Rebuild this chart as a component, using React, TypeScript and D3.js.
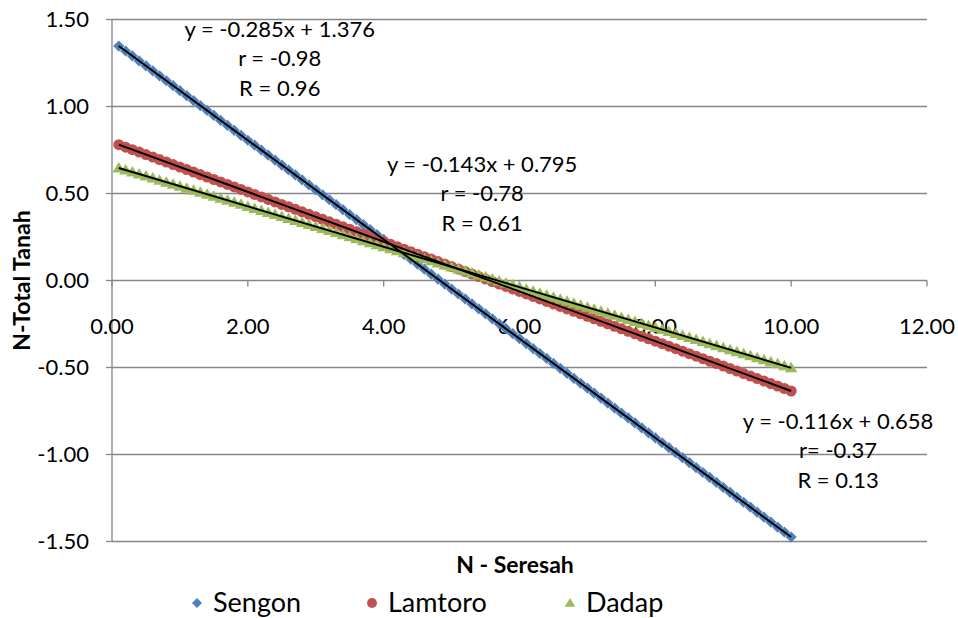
import React from "react";
import * as d3 from "d3";

// N content of litter (x) sampled for each tree species
const SERESAH_N = [
  0.1, 0.2, 0.3, 0.4, 0.5, 0.6, 0.7, 0.8, 0.9, 1.0,
  1.1, 1.2, 1.3, 1.4, 1.5, 1.6, 1.7, 1.8, 1.9, 2.0,
  2.1, 2.2, 2.3, 2.4, 2.5, 2.6, 2.7, 2.8, 2.9, 3.0,
  3.1, 3.2, 3.3, 3.4, 3.5, 3.6, 3.7, 3.8, 3.9, 4.0,
  4.1, 4.2, 4.3, 4.4, 4.5, 4.6, 4.7, 4.8, 4.9, 5.0,
  5.1, 5.2, 5.3, 5.4, 5.5, 5.6, 5.7, 5.8, 5.9, 6.0,
  6.1, 6.2, 6.3, 6.4, 6.5, 6.6, 6.7, 6.8, 6.9, 7.0,
  7.1, 7.2, 7.3, 7.4, 7.5, 7.6, 7.7, 7.8, 7.9, 8.0,
  8.1, 8.2, 8.3, 8.4, 8.5, 8.6, 8.7, 8.8, 8.9, 9.0,
  9.1, 9.2, 9.3, 9.4, 9.5, 9.6, 9.7, 9.8, 9.9, 10.0,
];

const SPECIES = ["Sengon", "Lamtoro", "Dadap"];
const SLOPES = [-0.285, -0.143, -0.116];
const INTERCEPTS = [1.376, 0.795, 0.658];
const CORR_R = ["r = -0.98", "r = -0.78", "r= -0.37"];
const DETERM_R = ["R = 0.96", "R = 0.61", "R = 0.13"];
const COLORS = ["#4F81BD", "#C0504D", "#9BBB59"];

const X_TICKS = [0, 2, 4, 6, 8, 10, 12];
const Y_TICKS = [1.5, 1.0, 0.5, 0.0, -0.5, -1.0, -1.5];

const W = 958;
const H = 618;
const FONT = "Lato, 'Open Sans', sans-serif";
const GRID = "#868686";

export default function App() {
  const x = d3.scaleLinear().domain([0, 12]).range([112, 927]);
  const y = d3.scaleLinear().domain([-1.5, 1.5]).range([541.5, 19.5]);
  const fmt = (v: number) => d3.format(".2f")(v).replace("\u2212", "-");

  const series = SPECIES.map((name, i) => ({
    name,
    color: COLORS[i],
    points: SERESAH_N.map((n) => [n, SLOPES[i] * n + INTERCEPTS[i]] as [number, number]),
  }));

  const line = d3
    .line<[number, number]>()
    .x((d) => x(d[0]))
    .y((d) => y(d[1]));

  const diamond = (cx: number, cy: number, r: number) =>
    `M${cx},${cy - r}L${cx + r},${cy}L${cx},${cy + r}L${cx - r},${cy}Z`;
  const triangle = (cx: number, cy: number, r: number) =>
    `M${cx},${cy - r}L${cx + r * 1.05},${cy + r * 0.75}L${cx - r * 1.05},${cy + r * 0.75}Z`;

  const marker = (i: number, cx: number, cy: number, key: string | number, s = 1) => {
    if (i === 0) return <path key={key} d={diamond(cx, cy, 5.6 * s)} fill={COLORS[0]} />;
    if (i === 1) return <circle key={key} cx={cx} cy={cy} r={5.5 * s} fill={COLORS[1]} />;
    return <path key={key} d={triangle(cx, cy, 6 * s)} fill={COLORS[2]} />;
  };

  // equation label anchors (first-line baseline) in data units
  const labelPos: [number, number][] = [
    [2.47, 1.4],
    [5.45, 0.624],
    [10.69, -0.853],
  ];

  const eq = (i: number) =>
    `y = ${SLOPES[i].toFixed(3)}x + ${INTERCEPTS[i].toFixed(3)}`;

  const legendX = [197, 372, 570];

  return (
    <svg width={W} height={H} style={{ display: "block", position: "absolute", left: 0, top: 0 }}>
      <rect width={W} height={H} fill="#fff" />
      {/* horizontal grid */}
      {Y_TICKS.map((t) => (
        <line key={t} x1={x(0)} x2={x(12)} y1={y(t)} y2={y(t)} stroke={GRID} strokeWidth={1.3} />
      ))}
      {/* y axis */}
      <line x1={x(0)} x2={x(0)} y1={y(1.5)} y2={y(-1.5)} stroke={GRID} strokeWidth={1.3} />
      {Y_TICKS.map((t) => (
        <g key={"yt" + t}>
          <line x1={x(0) - 6} x2={x(0)} y1={y(t)} y2={y(t)} stroke={GRID} strokeWidth={1.3} />
          <text x={x(0) - 23} y={y(t)} dy="0.35em" textAnchor="end" fontFamily={FONT} fontSize={22} fill="#000">
            {fmt(t)}
          </text>
        </g>
      ))}
      {/* x ticks on the zero line */}
      {X_TICKS.map((t) => (
        <g key={"xt" + t}>
          <line x1={x(t)} x2={x(t)} y1={y(0)} y2={y(0) + 6} stroke={GRID} strokeWidth={1.3} />
          <text x={x(t)} y={y(0) + 53} textAnchor="middle" fontFamily={FONT} fontSize={22} fill="#000">
            {fmt(t)}
          </text>
        </g>
      ))}

      {/* series markers */}
      {series.map((s, i) => (
        <g key={s.name}>{s.points.map((p, j) => marker(i, x(p[0]), y(p[1]), j))}</g>
      ))}

      {/* linear trendlines */}
      {series.map((s) => (
        <path
          key={"tl" + s.name}
          d={line([s.points[0], s.points[s.points.length - 1]]) || ""}
          stroke="#000"
          strokeWidth={2}
          fill="none"
        />
      ))}

      {/* trendline equations */}
      {SPECIES.map((name, i) => {
        const cx = x(labelPos[i][0]);
        const cy = y(labelPos[i][1]);
        return (
          <text key={"eq" + name} fontFamily={FONT} fontSize={22} fill="#000" textAnchor="middle">
            <tspan x={cx} y={cy}>{eq(i)}</tspan>
            <tspan x={cx} y={cy + 29.5}>{CORR_R[i]}</tspan>
            <tspan x={cx} y={cy + 59}>{DETERM_R[i]}</tspan>
          </text>
        );
      })}

      {/* axis titles */}
      <text
        x={0}
        y={0}
        transform={`translate(30,${(y(1.5) + y(-1.5)) / 2}) rotate(-90)`}
        textAnchor="middle"
        fontFamily={FONT}
        fontWeight="bold"
        fontSize={23}
      >
        N-Total Tanah
      </text>
      <text x={515} y={573} textAnchor="middle" fontFamily={FONT} fontWeight="bold" fontSize={23}>
        N - Seresah
      </text>

      {/* legend */}
      {SPECIES.map((name, i) => (
        <g key={"lg" + name}>
          {marker(i, legendX[i], 603, "m", i === 2 ? 0.85 : 0.9)}
          <text x={legendX[i] + 16} y={603} dy="0.35em" fontFamily={FONT} fontSize={27}>
            {name}
          </text>
        </g>
      ))}
    </svg>
  );
}
